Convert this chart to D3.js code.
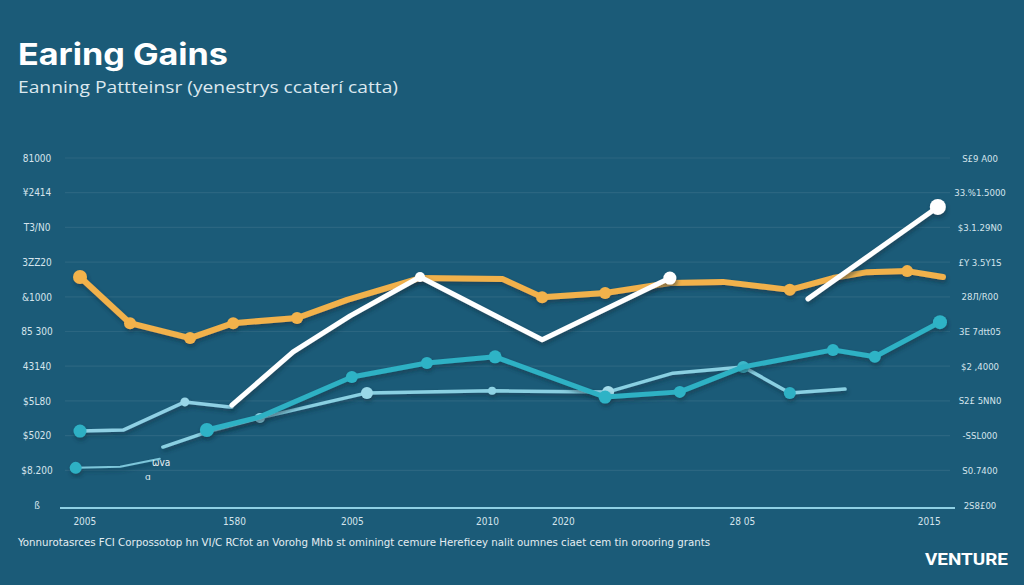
<!DOCTYPE html>
<html>
<head>
<meta charset="utf-8">
<script src="https://cdn.jsdelivr.net/npm/d3@7"></script>
<style>
  html, body { margin: 0; padding: 0; background: #1b5b78; }
  svg { display: block; }
</style>
</head>
<body>
<div id="chart"></div>
<script>
// ---------- DATA ----------
const title = "Earing Gains";
const subtitle = "Eanning Pattteinsr (yenestrys ccaterí catta)";
const footnote = "Yonnurotasrces FCI Corpossotop hn VI/C RCfot an Vorohg Mhb st ominingt cemure  Hereficey nalit oumnes ciaet cem tin orooring grants";
const brand = "VENTURE";

const xTickValues = [0.1, 3.57, 6.3, 9.43, 11.19, 15.34, 19.67];
const xTickLabels = ["2005", "1580", "2005", "2010", "2020", "28 05", "2015"];

const yTickValues = [0, 1, 2, 3, 4, 5, 6, 7, 8, 9, 10];
const yLeftLabels = ["ß", "$8.200", "$5020", "$5L80", "43140", "85 300", "&1000", "3ZZ20", "T3/N0", "¥2414", "81000"];
const yRightLabels = ["2S8£00", "S0.7400", "-SSL000", "S2£ 5NN0", "$2 ,4000", "3E 7dtt05", "28Л/R00", "£Y 3.5Y1S", "$3.1.29N0", "33.%1.5000", "S£9 A00"];

// orange series
const orangeX = [0, 1.16, 2.55, 3.55, 5.03, 6.19, 7.88, 9.80, 10.71, 12.17, 13.67, 14.90, 16.45, 17.45, 18.24, 19.17, 20.0];
const orangeY = [6.57, 5.24, 4.81, 5.24, 5.39, 5.91, 6.54, 6.51, 5.99, 6.11, 6.40, 6.43, 6.20, 6.54, 6.71, 6.74, 6.57];
const orangeMarks = [0, 1, 2, 3, 4, 8, 9, 12, 15];

// white series (null = gap)
const whiteX = [3.52, 4.94, 6.26, 7.88, 10.71, 13.67, null, 16.87, 19.88];
const whiteY = [2.88, 4.41, 5.45, 6.57, 4.76, 6.54, null, 5.94, 8.59];
const whiteMarks = [3, 5, 8];

// early pale series
const paleAX = [0, 1.0, 2.43, 3.52];
const paleAY = [2.13, 2.16, 2.97, 2.82];
const paleAMarks = [0, 2];

// teal series
const tealX = [2.94, 4.17, 6.30, 8.04, 9.62, 12.17, 13.90, 15.37, 17.45, 18.42, 19.93];
const tealY = [2.16, 2.54, 3.69, 4.09, 4.27, 3.11, 3.26, 3.98, 4.47, 4.27, 5.27];
const tealMarks = [0, 2, 3, 4, 5, 6, 8, 9, 10];

// pale series
const paleBX = [1.92, 2.94, 4.17, 6.65, 9.55, 12.24, 13.74, 15.37, 16.45, 17.73];
const paleBY = [1.67, 2.10, 2.51, 3.23, 3.29, 3.26, 3.80, 3.98, 3.23, 3.34];
const paleBMarks = [2, 3, 4, 5, 7, 8];

// small bottom series
const lowX = [-0.1, 0.93, 1.85];
const lowY = [1.07, 1.10, 1.33];
const lowMarks = [0];

// ---------- DRAW ----------
const W = 1024, H = 585;
const BG = "#1b5b78";
const svg = d3.select("#chart").append("svg").attr("width", W).attr("height", H);
svg.append("rect").attr("width", W).attr("height", H).attr("fill", BG);

const defs = svg.append("defs");
const f = defs.append("filter").attr("id", "shadow").attr("x", "-10%").attr("y", "-10%").attr("width", "120%").attr("height", "140%");
f.append("feDropShadow").attr("dx", 1).attr("dy", 3).attr("stdDeviation", 2).attr("flood-color", "#0b2f40").attr("flood-opacity", 0.55);

const x = d3.scaleLinear().domain([0, 20]).range([80, 943]);
const y = d3.scaleLinear().domain([0, 10]).range([505, 158]);

const narrow = "'Liberation Sans Narrow', 'DejaVu Sans Condensed', sans-serif";

// title
svg.append("text").attr("x", 18).attr("y", 65).text(title)
  .attr("fill", "#ffffff").attr("font-family", "Inter, 'Open Sans', sans-serif")
  .attr("font-weight", 700).attr("font-size", 30)
  .attr("textLength", 210).attr("lengthAdjust", "spacingAndGlyphs");
svg.append("text").attr("x", 18).attr("y", 93).text(subtitle)
  .attr("fill", "#dce8ef").attr("font-family", "'Open Sans', Inter, sans-serif")
  .attr("font-size", 17).attr("textLength", 380).attr("lengthAdjust", "spacingAndGlyphs");

// gridlines
svg.append("g").selectAll("line").data(yTickValues.slice(1)).join("line")
  .attr("x1", 65).attr("x2", 950)
  .attr("y1", d => y(d)).attr("y2", d => y(d))
  .attr("stroke", "#ffffff").attr("stroke-opacity", 0.07).attr("stroke-width", 1.2);

// baseline axis
const xAxis = d3.axisBottom(x).tickValues(xTickValues)
  .tickFormat((d, i) => xTickLabels[i]).tickSize(0).tickPadding(10);
const gx = svg.append("g").attr("transform", `translate(0,${y(0) + 3})`).call(xAxis);
gx.select(".domain").attr("d", `M60,0H955`).attr("stroke", "#8fd0e4").attr("stroke-width", 2);
gx.selectAll("text").attr("fill", "#d5e4ec").attr("font-size", 10).attr("font-family", narrow);

// left axis
const yl = d3.axisLeft(y).tickValues(yTickValues).tickFormat((d, i) => yLeftLabels[i]).tickSize(0).tickPadding(0);
const gyl = svg.append("g").attr("transform", "translate(52,0)").call(yl);
gyl.select(".domain").remove();
gyl.selectAll("text").attr("fill", "#d5e4ec").attr("font-size", 10).attr("text-anchor", "middle").attr("x", -15)
  .attr("font-family", narrow);

// right axis
const yr = d3.axisRight(y).tickValues(yTickValues).tickFormat((d, i) => yRightLabels[i]).tickSize(0).tickPadding(0);
const gyr = svg.append("g").attr("transform", "translate(958,0)").call(yr);
gyr.select(".domain").remove();
gyr.selectAll("text").attr("fill", "#d5e4ec").attr("font-size", 9.5).attr("text-anchor", "middle").attr("x", 22)
  .attr("font-family", narrow);

// series drawing helper
function series(xs, ys, marks, color, width, markColor, markR) {
  const pts = xs.map((v, i) => ({ x: v, y: ys[i] }));
  const line = d3.line().defined(d => d.x !== null && d.y !== null)
    .x(d => x(d.x)).y(d => y(d.y));
  const g = svg.append("g").attr("filter", "url(#shadow)");
  g.append("path").attr("d", line(pts)).attr("fill", "none")
    .attr("stroke", color).attr("stroke-width", width)
    .attr("stroke-linejoin", "round").attr("stroke-linecap", "round");
  g.selectAll("circle").data(marks.map((m, k) => ({ p: pts[m], k }))).join("circle")
    .attr("cx", d => x(d.p.x)).attr("cy", d => y(d.p.y))
    .attr("r", d => Array.isArray(markR) ? markR[d.k] : markR)
    .attr("fill", d => Array.isArray(markColor) ? markColor[d.k] : markColor);
}

series(lowX, lowY, lowMarks, "#7cc6da", 2, "#2fb0c4", 6);
series(paleAX, paleAY, paleAMarks, "#8fd0e4", 3.5, ["#2fb0c4", "#9ad6e8"], [6.5, 4.5]);
series(paleBX, paleBY, paleBMarks, "#8ad0e2", 3.5,
  ["#8fd3e5", "#9ad8e8", "#8fd3e5", "#a6dcea", "#3db8ca", "#2fb0c4"], [5, 6, 4, 6, 6, 6]);
series(tealX, tealY, tealMarks, "#2eb1c4", 5, "#2fb3c6", [7, 6, 6, 6.5, 6.5, 6, 6, 6, 7]);
series(orangeX, orangeY, orangeMarks, "#f1b14b", 6, "#f2b24c", [7, 6, 6, 6, 6, 6, 6, 6, 6]);
series(whiteX, whiteY, whiteMarks, "#ffffff", 5, "#ffffff", [5, 6.5, 8]);

// small stray labels
svg.append("text").attr("x", 152).attr("y", 466).text("ωva")
  .attr("fill", "#e8f1f5").attr("font-size", 10).attr("font-family", narrow);
svg.append("text").attr("x", 145).attr("y", 480).text("ɑ")
  .attr("fill", "#e8f1f5").attr("font-size", 9).attr("font-family", "'DejaVu Sans', sans-serif");

// footnote
svg.append("text").attr("x", 18).attr("y", 546).text(footnote)
  .attr("fill", "#e3edf2").attr("font-size", 10.5).attr("font-family", narrow)
  .attr("textLength", 692).attr("lengthAdjust", "spacingAndGlyphs");

// brand
svg.append("text").attr("x", 925).attr("y", 565).text(brand)
  .attr("fill", "#ffffff").attr("font-size", 17).attr("font-weight", 700)
  .attr("font-family", "Roboto, 'Liberation Sans', sans-serif")
  .attr("textLength", 83).attr("lengthAdjust", "spacingAndGlyphs");
</script>
</body>
</html>
